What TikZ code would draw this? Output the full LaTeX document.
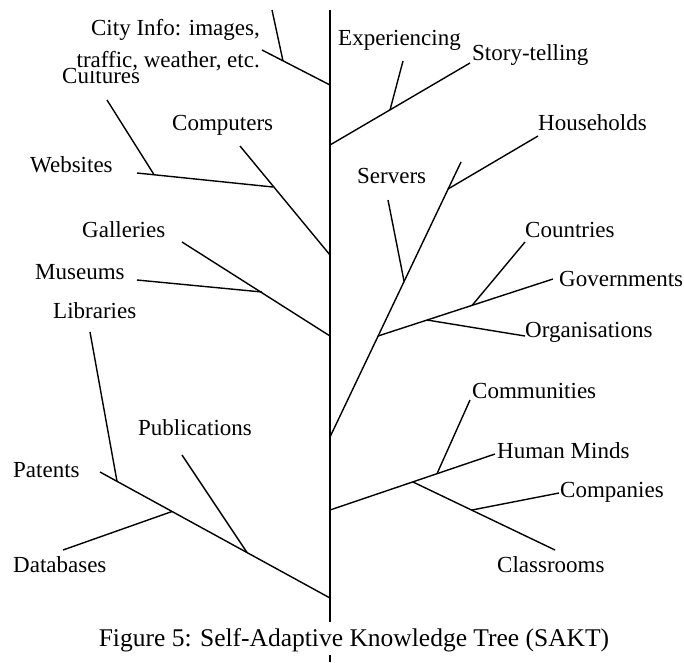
\documentclass[tikz,border=0pt]{standalone}
\usepackage{fontspec}
\setmainfont{Liberation Serif}
\begin{document}
\begin{tikzpicture}[x=1pt,y=-1pt,
  br/.style={line width=1.4pt},
  trunkline/.style={line width=1.8pt},
  lbl/.style={inner sep=0pt, anchor=base west, font=\fontsize{23}{27}\selectfont},
  lblr/.style={inner sep=0pt, anchor=base east, font=\fontsize{23}{27}\selectfont},
  captionbox/.style={inner xsep=2pt, inner ysep=0pt, fill=white, anchor=base,
    text height=24.6pt, text depth=8.4pt, font=\fontsize{25.5}{30}\selectfont}]
\useasboundingbox (0,0) rectangle (684,662);

% ---------- coordinates ----------
\coordinate (t0) at (330,10);
\coordinate (tb) at (330,662);
% left: city
\coordinate (cityR) at (330,85);
\coordinate (cityE) at (262,50);
\coordinate (cityJ) at (283,61);
\coordinate (cityS) at (272,10);
% left: computers
\coordinate (compR) at (330,255);
\coordinate (compE) at (240,146);
\coordinate (webJ) at (273,187);
\coordinate (webE) at (137,173);
\coordinate (cultJ) at (154,174.6);
\coordinate (cultE) at (107,100);
% left: galleries
\coordinate (galR) at (330,336);
\coordinate (galE) at (182,242);
\coordinate (musJ) at (262,292);
\coordinate (musE) at (137,280);
% left: patents
\coordinate (patR) at (330,598);
\coordinate (patE) at (100,472);
\coordinate (libJ) at (117,481.3);
\coordinate (libE) at (90,332);
\coordinate (dbJ) at (172,511.5);
\coordinate (dbE) at (63,550);
\coordinate (pubJ) at (247,552.5);
\coordinate (pubE) at (182,455);
% right: story
\coordinate (stoR) at (330,145);
\coordinate (stoE) at (470,63);
\coordinate (expJ) at (390,110);
\coordinate (expE) at (403,61);
% right: main
\coordinate (mainR) at (330,437);
\coordinate (mainE) at (461,162);
\coordinate (houJ) at (448,189);
\coordinate (houE) at (538,136);
\coordinate (serJ) at (404,281);
\coordinate (serE) at (388,200);
\coordinate (govJ) at (378,336);
\coordinate (govE) at (553,279);
\coordinate (couJ) at (472,305.5);
\coordinate (couE) at (525,242);
\coordinate (orgJ) at (427,320);
\coordinate (orgE) at (525,336);
% right: human minds
\coordinate (humR) at (330,510);
\coordinate (humE) at (495,454);
\coordinate (comJ) at (437,473.7);
\coordinate (comE) at (470,400);
\coordinate (claJ) at (413,482);
\coordinate (claE) at (555,550);
\coordinate (cpyJ) at (472,510);
\coordinate (cpyE) at (559,493);

% ---------- labels ----------
\node[lbl] (cultures) at (62,83) {Cultures};
\node[lbl] (computers) at (172,130) {Computers};
\node[lbl] (websites) at (30,172) {Websites};
\node[lbl] (galleries) at (82,237.3) {Galleries};
\node[lbl] (museums) at (35,279) {Museums};
\node[lbl] (libraries) at (53,318) {Libraries};
\node[lbl] (publications) at (138,435.5) {Publications};
\node[lbl] (patents) at (13,477) {Patents};
\node[lbl] (databases) at (13,572.7) {Databases};
\node[lbl] (experiencing) at (338,45.7) {Experiencing};
\node[lbl] (storytelling) at (472,60) {Story-telling};
\node[lbl] (households) at (538,130) {Households};
\node[lbl] (servers) at (357,183) {Servers};
\node[lbl] (countries) at (525,237.3) {Countries};
\node[lbl] (governments) at (559,286.7) {Governments};
\node[lbl] (organisations) at (525,337.3) {Organisations};
\node[lbl] (communities) at (472,398) {Communities};
\node[lbl] (humanminds) at (497,458) {Human Minds};
\node[lbl] (companies) at (560,497) {Companies};
\node[lbl] (classrooms) at (497,572.7) {Classrooms};

% ---------- trunk ----------
\draw[trunkline] (t0) -- (tb);

% ---------- branches ----------
\draw[br] (cityR) -- (cityE);
\draw[br] (cityJ) -- (cityS);
\draw[br] (compR) -- (compE);
\draw[br] (webJ) -- (webE);
\draw[br] (cultJ) -- (cultE);
\draw[br] (galR) -- (galE);
\draw[br] (musJ) -- (musE);
\draw[br] (patR) -- (patE);
\draw[br] (libJ) -- (libE);
\draw[br] (dbJ) -- (dbE);
\draw[br] (pubJ) -- (pubE);
\draw[br] (stoR) -- (stoE);
\draw[br] (expJ) -- (expE);
\draw[br] (mainR) -- (mainE);
\draw[br] (houJ) -- (houE);
\draw[br] (serJ) -- (serE);
\draw[br] (govJ) -- (govE);
\draw[br] (couJ) -- (couE);
\draw[br] (orgJ) -- (orgE);
\draw[br] (humR) -- (humE);
\draw[br] (comJ) -- (comE);
\draw[br] (claJ) -- (claE);
\draw[br] (cpyJ) -- (cpyE);

% ---------- city info label (covers top of "Cultures") ----------
\node[lblr] (cityinfo1) at (260,35) {City Info: images,};
\node[lblr, fill=white] (cityinfo2) at (260,67) {traffic, weather, etc.};

% ---------- caption ----------
\node[captionbox] (caption) at (354,646.6) {Figure 5: Self-Adaptive Knowledge Tree (SAKT)};
\end{tikzpicture}
\end{document}
